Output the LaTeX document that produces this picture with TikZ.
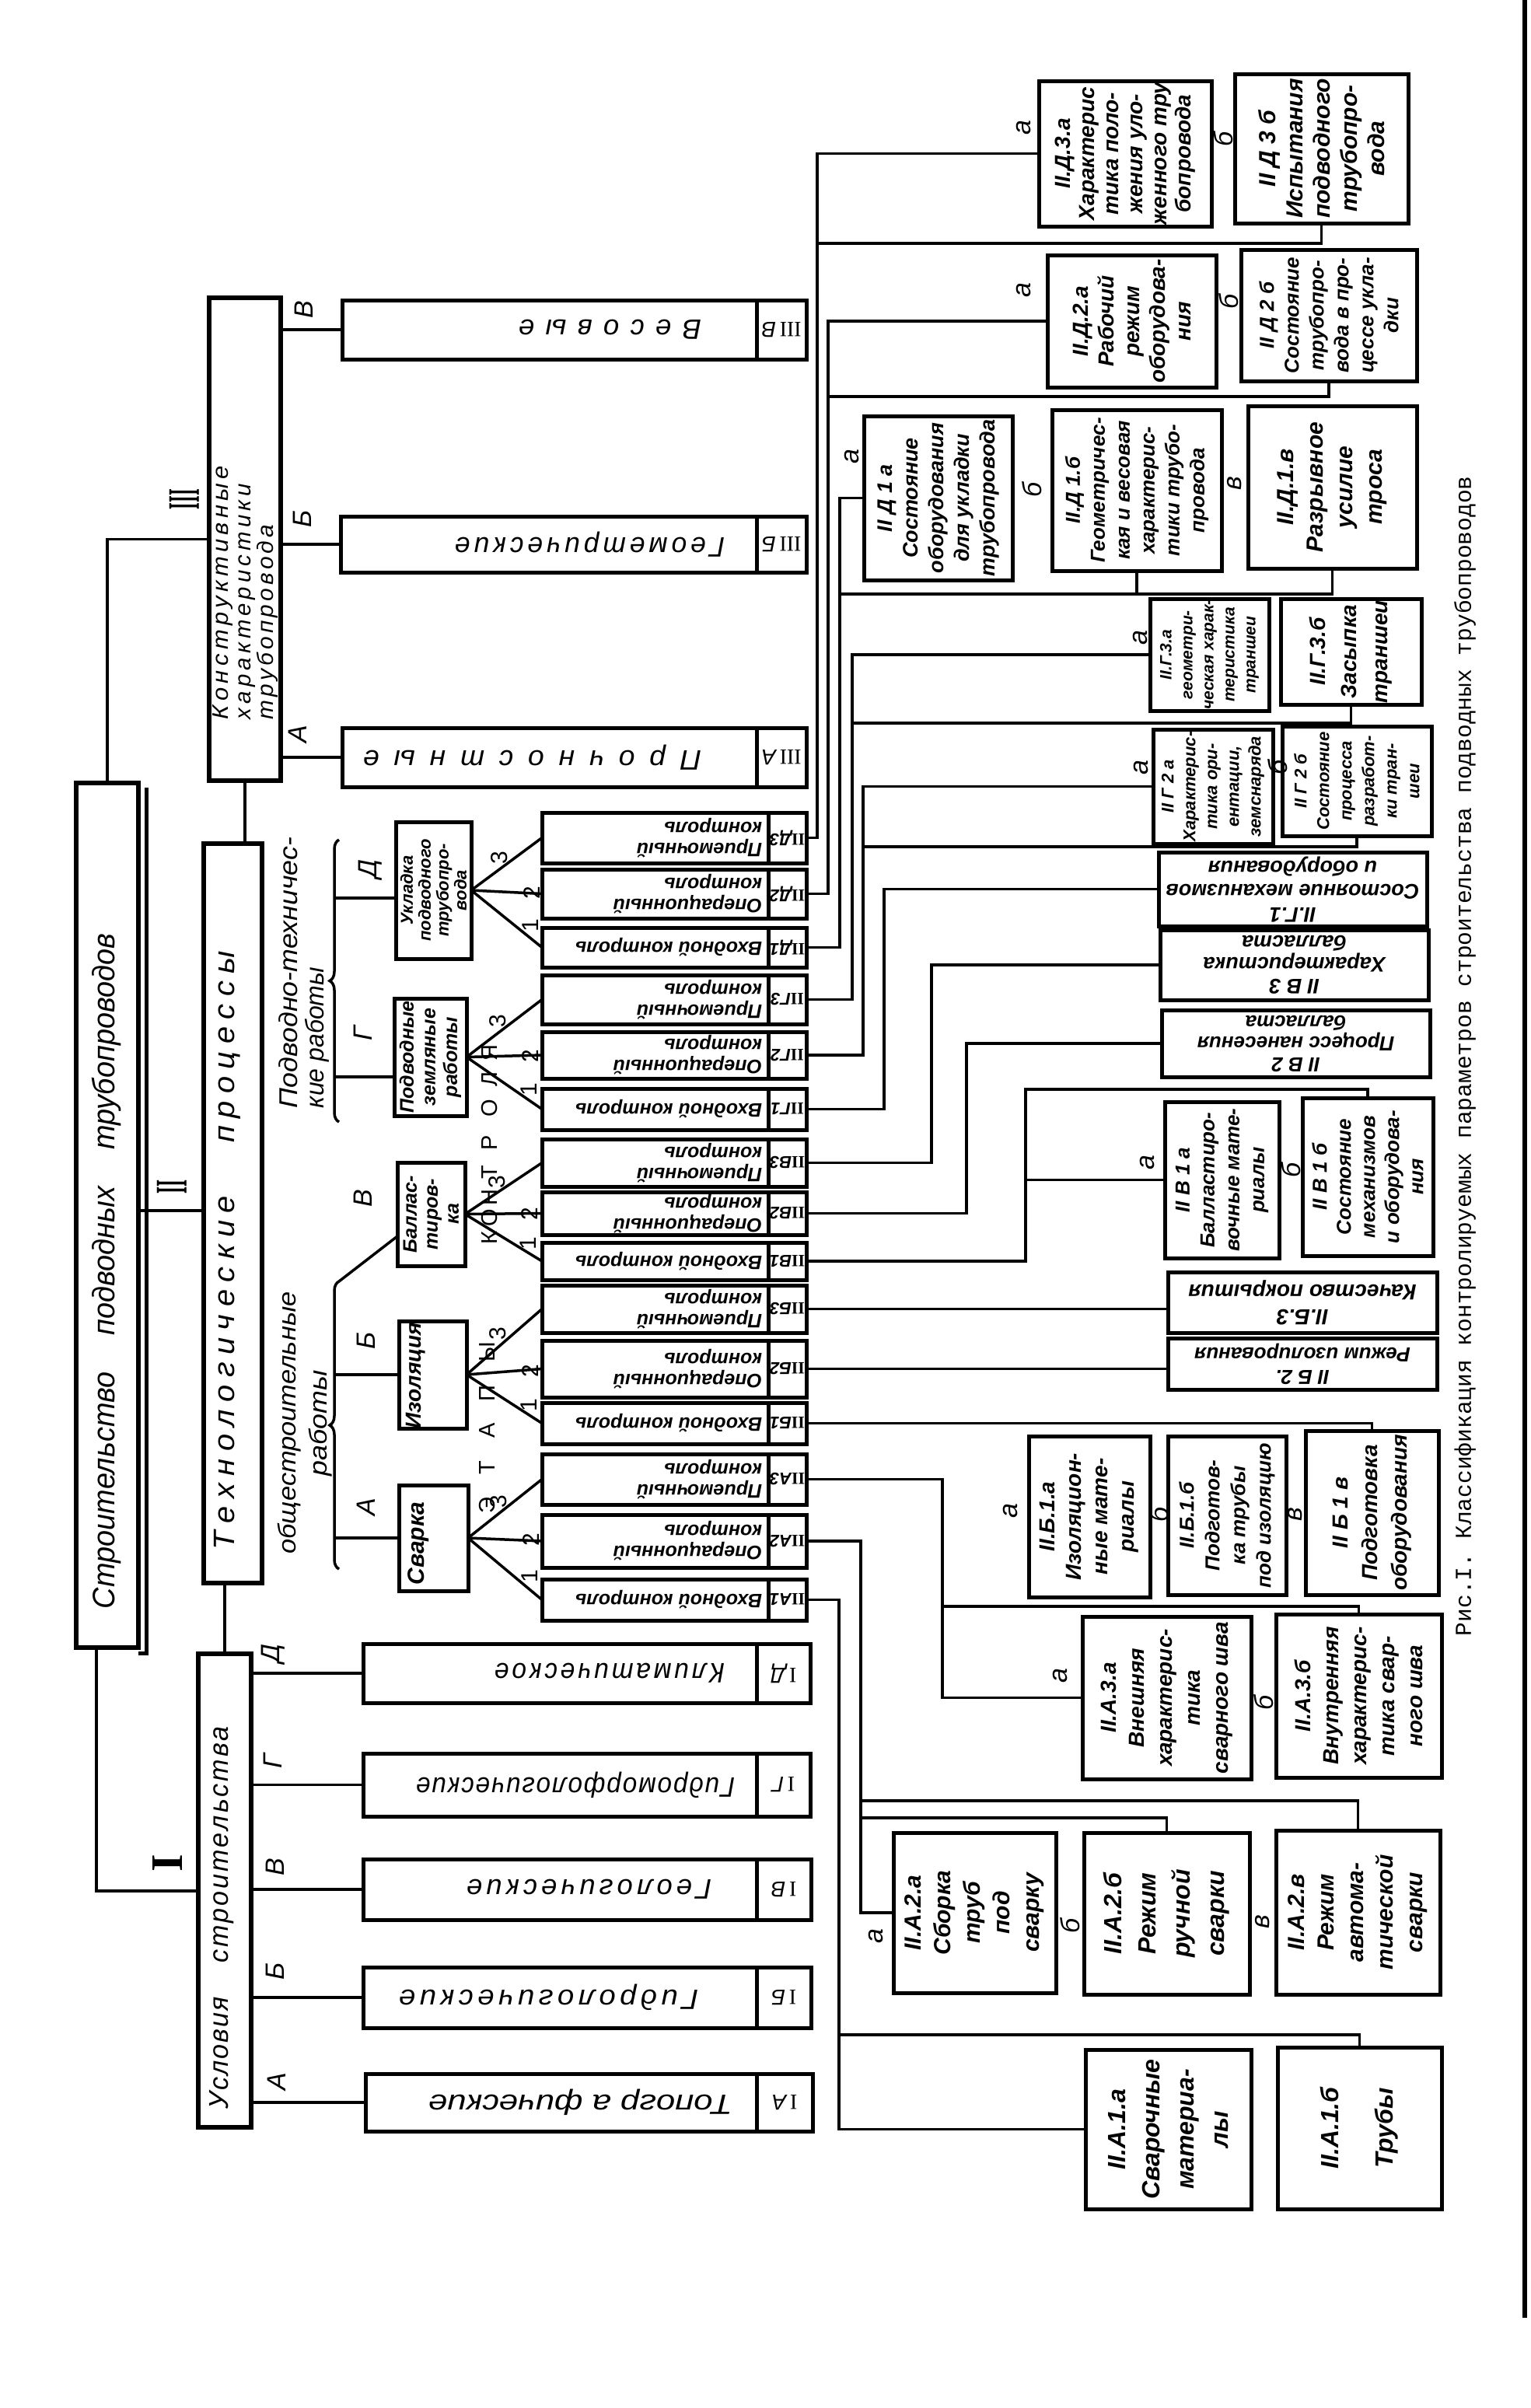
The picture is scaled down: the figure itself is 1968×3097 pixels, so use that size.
\documentclass[tikz,border=0pt]{standalone}
\usepackage{fontspec}
\usepackage{graphicx}
\setmainfont{Liberation Sans}
\newfontfamily\capfont{Liberation Mono}
\newfontfamily\romfont{Liberation Serif}
\usetikzlibrary{decorations.pathreplacing,calc}
\newcommand\FS[2]{\fontsize{#1}{#2}\selectfont}
\newcommand\fitw[2]{\resizebox{#1pt}{\height}{#2}}
\makeatletter
\newcommand\spaced[2]{\def\sp@k{#1}\@tfor\sp@c:=#2\do{\sp@c\kern\sp@k}\unkern}
\makeatother
\newcommand\bxn[6][]{%
 \pgfmathsetmacro\bxX{(#3+#5)/2}%
 \pgfmathsetmacro\bxY{(#4+#6)/2}%
 \pgfmathsetmacro\bxW{#5-#3}%
 \pgfmathsetmacro\bxH{#6-#4}%
 \node[bx,minimum width=\bxW pt,minimum height=\bxH pt,#1] (#2) at (\bxX,\bxY) {};}
\newcommand\mkleaf[8]{\bxn{#1}{#2}{#3}{#4}{#5}%
 \node[r90,align=center,font=\FS{#6}{#7}\bfseries\itshape] (#1t) at (#1) {#8};}
\newcommand\mkwide[8]{\bxn{#1}{#2}{#3}{#4}{#5}%
 \node[r180,align=center,font=\FS{#6}{#7}\bfseries\itshape] (#1t) at (#1) {#8};}
\newcommand\mkctl[5]{\bxn{#1}{697}{#2}{1037}{#3}\bxn{#1l}{988}{#2}{1037}{#3}%
 \node[r180,font=\FS{22}{22}\bfseries\itshape] (#1lt) at (#1l) {#4};%
 \node[r180,anchor=west,align=left,font=\FS{25}{27}\bfseries\itshape] (#1t) at (980,{(#2+#3)/2}) {#5};}
\newcommand\tIn{Входной контроль}
\newcommand\tOp{Операционный\\контроль}
\newcommand\tPr{Приемочный\\контроль}
\begin{document}
\begin{tikzpicture}[x=1pt,y=-1pt,
 bx/.style={draw,line width=5pt,inner sep=0pt,outer sep=0pt},
 mbx/.style={line width=6pt},
 cn/.style={line width=3.5pt},
 tx/.style={inner sep=0pt,outer sep=0pt},
 r90/.style={tx,rotate=90},
 r180/.style={tx,rotate=180},
 lt/.style={r90,font=\FS{34}{34}\itshape},
 dg/.style={r90,font=\FS{30}{30}},
 el/.style={r90,font=\FS{29}{29}},
 rowt/.style={r180,anchor=west,font=\FS{36}{36}\itshape},
 rowl/.style={r180,font=\FS{28}{28}\itshape}]
\fill[white] (0,0) rectangle (1968,3097);
\useasboundingbox (0,0) rectangle (1968,3097);

% ---------- main boxes ----------
\bxn[mbx]{t0}{98}{1007}{178}{2119}
\draw[line width=5pt] ([xshift=10pt,yshift=-6pt]t0.north east) -- ([xshift=10pt,yshift=-7pt]t0.south east) -- ([yshift=-7pt]t0.south east);
\node[r90,font=\FS{40}{40}\itshape] (t0t) at (137,1635) {\fitw{868}{Строительство\hspace{50pt}подводных\hspace{50pt}трубопроводов}};
\bxn[mbx]{k}{269}{383}{361}{1004}
\node[r90,anchor=west,align=left,font=\FS{29}{29}\itshape] (kt) at (316,925) {\fitw{326}{\spaced{5pt}{Конструктивные}}\\\fitw{303}{\spaced{5pt}{характеристики}}\\\fitw{250}{\spaced{4pt}{трубопровода}}};
\bxn[mbx]{tp}{262}{1085}{337}{2036}
\node[r90,font=\FS{38}{38}\itshape] (tpt) at (292,1608) {\fitw{770}{\spaced{9pt}{Технологические}\hspace{65pt}\spaced{9pt}{процессы}}};
\bxn[mbx]{u}{255}{2127}{323}{2736}
\node[r90,font=\FS{35}{35}\itshape] (ut) at (285,2466) {\fitw{492}{\spaced{2pt}{Условия}\hspace{45pt}\spaced{3pt}{строительства}}};

\node[r90,font=\romfont\bfseries\FS{58}{58}] (nIII) at (237,642) {\resizebox{26pt}{\height}{III}};
\node[r90,font=\romfont\bfseries\FS{58}{58}] (nII) at (221,1526) {\resizebox{18pt}{\height}{II}};
\node[r90,font=\romfont\bfseries\FS{58}{58}] (nI) at (216,2396) {I};

\draw[cn] (t0.north) |- (k.west);
\draw[cn] (k.south) -- (k.south |- tp.north);
\coordinate (cII) at (0,1557);
\draw[cn] (cII -| t0.east) -- (cII -| tp.west);
\draw[cn] (u.north) -- (u.north |- tp.south);
\coordinate (cI) at (124,2432);
\draw[cn] (cI |- t0.south) -- (cI) -- (cI -| u.west);

% ---------- group III ----------
\bxn{iiiv}{440}{386}{1037}{462}\bxn{iiivl}{973}{386}{1037}{462}
\node[rowt] (iiivt) at (902,424) {\fitw{235}{\spaced{14pt}{Весовые}}};
\node[rowl] (iiivlt) at (iiivl) {{\romfont\upshape III}\,В};
\bxn{iiib}{438}{664}{1037}{736}\bxn{iiibl}{973}{664}{1037}{736}
\node[rowt] (iiibt) at (932,700) {\fitw{347}{\spaced{5pt}{Геометрические}}};
\node[rowl] (iiiblt) at (iiibl) {{\romfont\upshape III}\,Б};
\bxn{iiia}{440}{936}{1037}{1012}\bxn{iiial}{973}{936}{1037}{1012}
\node[rowt] (iiiat) at (902,974) {\fitw{435}{\spaced{18pt}{Прочностные}}};
\node[rowl] (iiialt) at (iiial) {{\romfont\upshape III}\,А};
\draw[cn] (k.east |- iiiv.west) -- (iiiv.west);
\draw[cn] (k.east |- iiib.west) -- (iiib.west);
\draw[cn] (k.east |- iiia.west) -- (iiia.west);
\node[lt] (lkV) at (391,398) {В};
\node[lt] (lkB) at (389,667) {Б};
\node[lt] (lkA) at (383,944) {А};

% ---------- group I ----------
\bxn{id}{467}{2114}{1042}{2190}\bxn{idl}{973}{2114}{1042}{2190}
\node[rowt] (idt) at (932,2152) {\fitw{296}{\spaced{4pt}{Климатическое}}};
\node[rowl] (idlt) at (idl) {{\romfont\upshape I}\,Д};
\bxn{ig}{467}{2255}{1042}{2336}\bxn{igl}{973}{2255}{1042}{2336}
\node[rowt] (igt) at (945,2296) {\fitw{410}{\spaced{2pt}{Гидроморфологические}}};
\node[rowl] (iglt) at (igl) {{\romfont\upshape I}\,Г};
\bxn{iv}{467}{2391}{1043}{2469}\bxn{ivl}{973}{2391}{1043}{2469}
\node[rowt] (ivt) at (915,2430) {\fitw{315}{\spaced{5pt}{Геологические}}};
\node[rowl] (ivlt) at (ivl) {{\romfont\upshape I}\,В};
\bxn{ib}{467}{2530}{1043}{2608}\bxn{ibl}{973}{2530}{1043}{2608}
\node[rowt] (ibt) at (898,2569) {\fitw{385}{\spaced{5pt}{Гидрологические}}};
\node[rowl] (iblt) at (ibl) {{\romfont\upshape I}\,Б};
\bxn{ia}{470}{2667}{1045}{2741}\bxn{ial}{973}{2667}{1045}{2741}
\node[rowt] (iat) at (942,2704) {\fitw{391}{Топогр а фические}};
\node[rowl] (ialt) at (ial) {{\romfont\upshape I}\,А};
\draw[cn] (u.east |- id.west) -- (id.west);
\draw[cn] (u.east |- ig.west) -- (ig.west);
\draw[cn] (u.east |- iv.west) -- (iv.west);
\draw[cn] (u.east |- ib.west) -- (ib.west);
\draw[cn] (u.east |- ia.west) -- (ia.west);
\node[lt] (luD) at (351,2127) {Д};
\node[lt] (luG) at (351,2265) {Г};
\node[lt] (luV) at (354,2401) {В};
\node[lt] (luB) at (354,2535) {Б};
\node[lt] (luA) at (356,2677) {А};

% ---------- process group II ----------
\node[r90,anchor=west,align=left,font=\FS{33}{34}\itshape] (pwt) at (391,1425) {\fitw{348}{Подводно-техничес-}\\\fitw{181}{кие работы}};
\node[r90,align=center,font=\FS{32}{40}\itshape] (owt) at (392,1830) {\fitw{337}{общестроительные}\\\fitw{136}{работы}};
\draw[cn,decorate,decoration={brace,amplitude=12pt}] (436,1443) -- (436,1080);
\draw[cn,decorate,decoration={brace,amplitude=12pt}] (436,2018) -- (436,1648);
\bxn{uk}{509}{1057}{606}{1233}
\node[r90,align=center,font=\FS{22}{23}\bfseries\itshape] (ukt) at (uk) {Укладка\\подводного\\трубопро-\\вода};
\bxn{pz}{507}{1284}{600}{1435}
\node[r90,align=center,font=\FS{25}{28}\bfseries\itshape] (pzt) at (pz) {Подводные\\земляные\\работы};
\bxn{bl}{511}{1495}{598}{1628}
\node[r90,align=center,font=\FS{25}{27}\bfseries\itshape] (blt) at (bl) {Баллас-\\тиров-\\ка};
\bxn{iz}{513}{1699}{600}{1837}
\node[r90,font=\FS{28}{28}\bfseries\itshape] (izt) at (535,1769) {Изоляция};
\bxn{sv}{513}{1910}{602}{2046}
\node[r90,font=\FS{30}{30}\bfseries\itshape] (svt) at (538,1985) {Сварка};
\coordinate (yD) at (430,1155);
\draw[cn] (yD) -- (yD -| uk.west);
\coordinate (yG) at (430,1385);
\draw[cn] (yG) -- (yG -| pz.west);
\coordinate (brBtop) at (436,1648);
\coordinate (yV) at (0,1590);
\draw[cn] (brBtop) -- (yV -| bl.west);
\coordinate (brB) at (430,0);
\draw[cn] (brB |- iz.west) -- (iz.west);
\draw[cn] (brB |- sv.west) -- (sv.west);
\node[lt] (lpD) at (476,1118) {Д};
\node[lt] (lpG) at (467,1329) {Г};
\node[lt] (lpV) at (467,1541) {В};
\node[lt] (lpB) at (471,1724) {Б};
\node[lt] (lpA) at (471,1938) {А};

% ---------- control stages ----------
\mkctl{cD3}{1045}{1110}{{\romfont\upshape II}Д3}{\tPr}
\mkctl{cD2}{1118}{1181}{{\romfont\upshape II}Д2}{\tOp}
\mkctl{cD1}{1193}{1244}{{\romfont\upshape II}Д1}{\tIn}
\mkctl{cG3}{1254}{1317}{{\romfont\upshape II}Г3}{\tPr}
\mkctl{cG2}{1327}{1387}{{\romfont\upshape II}Г2}{\tOp}
\mkctl{cG1}{1400}{1453}{{\romfont\upshape II}Г1}{\tIn}
\mkctl{cV3}{1465}{1526}{{\romfont\upshape II}В3}{\tPr}
\mkctl{cV2}{1533}{1588}{{\romfont\upshape II}В2}{\tOp}
\mkctl{cV1}{1598}{1646}{{\romfont\upshape II}В1}{\tIn}
\mkctl{cB3}{1653}{1714}{{\romfont\upshape II}Б3}{\tPr}
\mkctl{cB2}{1724}{1797}{{\romfont\upshape II}Б2}{\tOp}
\mkctl{cB1}{1804}{1857}{{\romfont\upshape II}Б1}{\tIn}
\mkctl{cA3}{1870}{1935}{{\romfont\upshape II}А3}{\tPr}
\mkctl{cA2}{1948}{2016}{{\romfont\upshape II}А2}{\tOp}
\mkctl{cA1}{2031}{2084}{{\romfont\upshape II}А1}{\tIn}

% spokes with stage numbers
\draw[cn] (uk.east) -- node[dg,pos=.62,yshift=20pt] (dD3) {3} (cD3.west);
\draw[cn] (uk.east) -- node[dg,pos=.62,yshift=-22pt] (dD2) {2} (cD2.west);
\draw[cn] (uk.east) -- node[dg,pos=.62,yshift=-20pt] (dD1) {1} (cD1.west);
\draw[cn] (pz.east) -- node[dg,pos=.62,yshift=20pt] (dG3) {3} (cG3.west);
\draw[cn] (pz.east) -- node[dg,pos=.62,yshift=-22pt] (dG2) {2} (cG2.west);
\draw[cn] (pz.east) -- node[dg,pos=.62,yshift=-20pt] (dG1) {1} (cG1.west);
\draw[cn] (bl.east) -- node[dg,pos=.62,yshift=20pt] (dV3) {3} (cV3.west);
\draw[cn] (bl.east) -- node[dg,pos=.62,yshift=-22pt] (dV2) {2} (cV2.west);
\draw[cn] (bl.east) -- node[dg,pos=.62,yshift=-20pt] (dV1) {1} (cV1.west);
\draw[cn] (iz.east) -- node[dg,pos=.62,yshift=20pt] (dB3) {3} (cB3.west);
\draw[cn] (iz.east) -- node[dg,pos=.62,yshift=-22pt] (dB2) {2} (cB2.west);
\draw[cn] (iz.east) -- node[dg,pos=.62,yshift=-20pt] (dB1) {1} (cB1.west);
\draw[cn] (sv.east) -- node[dg,pos=.62,yshift=20pt] (dA3) {3} (cA3.west);
\draw[cn] (sv.east) -- node[dg,pos=.62,yshift=-22pt] (dA2) {2} (cA2.west);
\draw[cn] (sv.east) -- node[dg,pos=.62,yshift=-20pt] (dA1) {1} (cA1.west);

% ЭТАПЫ КОНТРОЛЯ
\node[el] (k1) at (630,1592) {К};
\node[el] (k2) at (630,1566) {О};
\node[el] (k3) at (630,1540) {Н};
\node[el] (k4) at (630,1508) {Т};
\node[el] (k5) at (630,1470) {Р};
\node[el] (k6) at (630,1425) {О};
\node[el] (k7) at (630,1388) {Л};
\node[el] (k8) at (630,1354) {Я};
\node[el] (e1) at (627,1936) {Э};
\node[el] (e2) at (627,1888) {Т};
\node[el] (e3) at (627,1840) {А};
\node[el] (e4) at (627,1792) {П};
\node[el] (e5) at (627,1739) {Ы};

% ---------- leaves ----------
\mkleaf{pd3a}{1336}{104}{1558}{291}{28}{31}{II.Д.3.а\\Характерис\\тика поло-\\жения уло-\\женного тру\\бопровода}
\mkleaf{pd3b}{1588}{95}{1811}{287}{30}{35}{II Д 3 б\\Испытания\\подводного\\трубопро-\\вода}
\mkleaf{pd2a}{1347}{328}{1564}{498}{28}{33}{II.Д.2.а\\Рабочий\\режим\\оборудова-\\ния}
\mkleaf{pd2b}{1596}{321}{1822}{490}{26}{32}{II Д 2 б\\Состояние\\трубопро-\\вода в про-\\цессе укла-\\дки}
\mkleaf{pd1a}{1111}{535}{1302}{746}{27}{33}{II Д 1 а\\Состояние\\оборудования\\для укладки\\трубопровода}
\mkleaf{pd1b}{1353}{527}{1571}{734}{26}{32}{II.Д 1.б\\Геометричес-\\кая и весовая\\характерис-\\тики трубо-\\провода}
\mkleaf{pd1v}{1605}{522}{1822}{731}{30}{38}{II.Д.1.в\\Разрывное\\усилие\\троса}
\mkleaf{pg3a}{1479}{770}{1632}{914}{21}{27}{II.Г.3.а\\геометри-\\ческая харак-\\теристика\\траншеи}
\mkleaf{pg3b}{1647}{770}{1828}{906}{28}{40}{II.Г.3.б\\Засыпка\\траншеи}
\mkleaf{pg2a}{1483}{938}{1637}{1085}{22}{28}{II Г 2 а\\Характерис-\\тика ори-\\ентации,\\земснаряда}
\mkleaf{pg2b}{1649}{934}{1841}{1075}{22}{29}{II Г 2 б\\Состояние\\процесса\\разработ-\\ки тран-\\шеи}
\mkwide{pg1}{1490}{1096}{1835}{1191}{27}{30}{II.Г.1\\Состояние механизмов\\и оборудования}
\mkwide{pv3}{1492}{1196}{1837}{1286}{27}{28}{II В 3\\Характеристика\\балласта}
\mkwide{pv2}{1494}{1299}{1839}{1385}{26}{27}{II В 2\\Процесс нанесения\\балласта}
\mkleaf{pv1a}{1498}{1417}{1645}{1618}{26}{32}{II В 1 а\\Балластиро-\\вочные мате-\\риалы}
\mkleaf{pv1b}{1675}{1412}{1843}{1615}{26}{31}{II В 1 б\\Состояние\\механизмов\\и оборудова-\\ния}
\mkwide{pb3}{1502}{1636}{1848}{1714}{28}{32}{II.Б.3\\Качество покрытия}
\mkwide{pb2}{1502}{1721}{1848}{1787}{26}{29}{II Б 2.\\Режим изолирования}
\mkleaf{pb1a}{1323}{1847}{1479}{2054}{28}{34}{II.Б.1.а\\Изоляцион-\\ные мате-\\риалы}
\mkleaf{pb1b}{1502}{1847}{1654}{2051}{26}{33}{II.Б.1.б\\Подготов-\\ка трубы\\под изоляцию}
\mkleaf{pb1v}{1679}{1840}{1850}{2051}{28}{38}{II Б 1 в\\Подготовка\\оборудования}
\mkleaf{pa3a}{1392}{2079}{1609}{2288}{28}{36}{II.А.3.а\\Внешняя\\характерис-\\тика\\сварного шва}
\mkleaf{pa3b}{1641}{2076}{1854}{2286}{28}{36}{II.А.3.б\\Внутренняя\\характерис-\\тика свар-\\ного шва}
\mkleaf{pa2a}{1149}{2357}{1358}{2563}{30}{38}{II.А.2.а\\Сборка\\труб\\под\\сварку}
\mkleaf{pa2b}{1394}{2357}{1607}{2565}{32}{44}{II.А.2.б\\Режим\\ручной\\сварки}
\mkleaf{pa2v}{1641}{2354}{1852}{2565}{30}{38}{II.А.2.в\\Режим\\автома-\\тической\\сварки}
\mkleaf{pa1a}{1396}{2636}{1609}{2841}{32}{44}{II.А.1.а\\Сварочные\\материа-\\лы}
\mkleaf{pa1b}{1643}{2633}{1854}{2841}{32}{70}{II.А.1.б\\Трубы}

% ---------- connectors control -> leaves ----------
\coordinate (bD3) at (1051,0);
\coordinate (bD2) at (1065,0);
\coordinate (bD1) at (1080,0);
\coordinate (bG3) at (1096,0);
\coordinate (bG2) at (1110,0);
\coordinate (bG1) at (1137,0);
\coordinate (bV3) at (1198,0);
\coordinate (bV2) at (1243,0);
\coordinate (bV1) at (1319,0);
\coordinate (bA3) at (1212,0);
\coordinate (bA2) at (1107,0);
\coordinate (bA1) at (1079,0);
\draw[cn] (cD3.east) -| (bD3 |- pd3a.west) -- (pd3a.west);
\coordinate (jD3) at (1051,313);
\draw[cn] (jD3) -| (pd3b.south);
\draw[cn] (cD2.east) -| (bD2 |- pd2a.west) -- (pd2a.west);
\coordinate (jD2) at (1065,510);
\draw[cn] (jD2) -| (pd2b.south);
\draw[cn] (cD1.east) -| (bD1 |- pd1a.west) -- (pd1a.west);
\coordinate (jD1) at (1080,764);
\draw[cn] (jD1) -| (pd1v.south);
\draw[cn] (pd1b.south) -- (pd1b.south |- jD1);
\draw[cn] (cG3.east) -| (bG3 |- pg3a.west) -- (pg3a.west);
\coordinate (jG3) at (1096,930);
\draw[cn] (jG3) -| (pg3b.south);
\draw[cn] (cG2.east) -| (bG2 |- pg2a.west) -- (pg2a.west);
\coordinate (jG2) at (1110,1089);
\draw[cn] (jG2) -| (pg2b.south);
\draw[cn] (cG1.east) -| (bG1 |- pg1.west) -- (pg1.west);
\draw[cn] (cV3.east) -| (bV3 |- pv3.west) -- (pv3.west);
\draw[cn] (cV2.east) -| (bV2 |- pv2.west) -- (pv2.west);
\draw[cn] (cV1.east) -| (bV1 |- pv1a.west) -- (pv1a.west);
\coordinate (jV1) at (1319,1401);
\draw[cn] (bV1 |- pv1a.west) -- (jV1) -| (pv1b.north);
\draw[cn] (cB3.east) -- (cB3.east -| pb3.west);
\draw[cn] (cB2.east) -- (cB2.east -| pb2.west);
\draw[cn] (cB1.east) -| (pb1v.north);
\draw[cn] (cA3.east) -| (bA3 |- pa3a.west) -- (pa3a.west);
\coordinate (jA3) at (1212,2066);
\draw[cn] (jA3) -| (pa3b.north);
\draw[cn] (cA2.east) -| (bA2 |- pa2a.west) -- (pa2a.west);
\coordinate (jA2v) at (1107,2316);
\draw[cn] (jA2v) -| (pa2v.north);
\coordinate (jA2b) at (1107,2338);
\draw[cn] (jA2b) -| (pa2b.north);
\draw[cn] (cA1.east) -| (bA1 |- pa1a.west) -- (pa1a.west);
\coordinate (jA1) at (1079,2617);
\draw[cn] (jA1) -| (pa1b.north);

% leaf letters
\node[lt] (x1) at (1317,164) {а};
\node[lt] (x2) at (1573,179) {б};
\node[lt] (x3) at (1317,373) {а};
\node[lt] (x4) at (1580,388) {б};
\node[lt] (x5) at (1096,587) {а};
\node[lt] (x6) at (1327,630) {б};
\node[lt] (x7) at (1588,622) {в};
\node[lt] (x8) at (1466,820) {а};
\node[lt] (x9) at (1468,987) {а};
\node[lt] (x10) at (1643,987) {б};
\node[lt] (x11) at (1475,1495) {а};
\node[lt] (x12) at (1660,1505) {б};
\node[lt] (x13) at (1300,1943) {а};
\node[lt] (x14) at (1490,1948) {б};
\node[lt] (x15) at (1666,1948) {в};
\node[lt] (x16) at (1364,2155) {а};
\node[lt] (x17) at (1625,2190) {б};
\node[lt] (x18) at (1127,2490) {а};
\node[lt] (x19) at (1376,2477) {б};
\node[lt] (x20) at (1624,2472) {в};

% ---------- caption and frame ----------
\node[r90,font=\capfont\FS{29.5}{29.5}] (cap) at (1884,1358) {\fitw{1492}{Рис.I. Классификация контролируемых параметров строительства подводных трубопроводов}};
\draw[line width=6pt] (1961,0) -- (1961,2981);
\end{tikzpicture}
\end{document}
